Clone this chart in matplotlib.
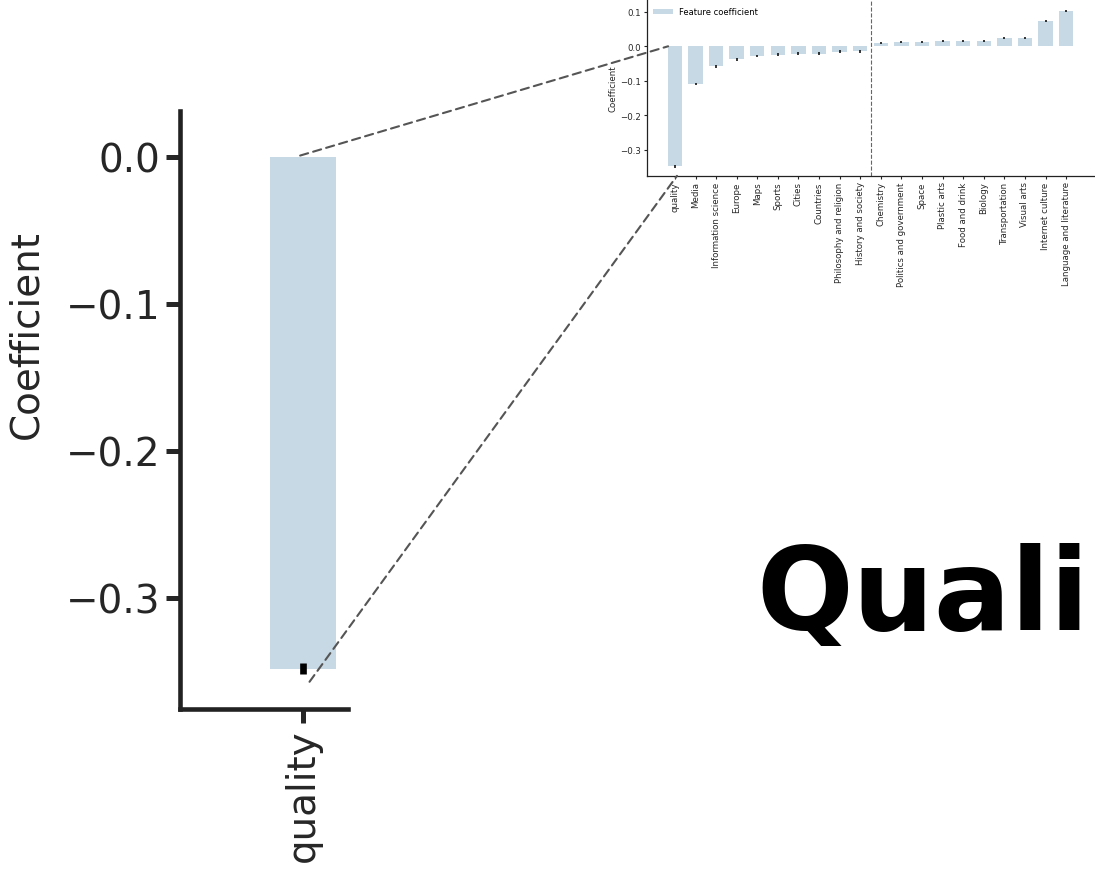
import numpy as np
import matplotlib.pyplot as plt
from matplotlib.patches import ConnectionPatch

# feature coefficients (sorted)
categories = ['quality', 'Media', 'Information science', 'Europe', 'Maps', 'Sports',
              'Cities', 'Countries', 'Philosophy and religion', 'History and society',
              'Chemistry', 'Politics and government', 'Space', 'Plastic arts',
              'Food and drink', 'Biology', 'Transportation', 'Visual arts',
              'Internet culture', 'Language and literature']
coefs = [-0.348, -0.109, -0.058, -0.038, -0.029, -0.024, -0.021, -0.021, -0.016, -0.015,
         0.010, 0.012, 0.0135, 0.0145, 0.015, 0.016, 0.023, 0.023, 0.0745, 0.1035]
errs = [0.004, 0.004, 0.004, 0.004, 0.003, 0.004, 0.003, 0.004, 0.004, 0.004,
        0.003, 0.003, 0.003, 0.003, 0.003, 0.003, 0.003, 0.003, 0.003, 0.003]
zoom_ticks = [0.0, -0.1, -0.2, -0.3]
inset_ticks = [0.1, 0.0, -0.1, -0.2, -0.3]
big_title = 'Quali'

bar_color = '#c8d9e6'
text_color = '#262626'
x = np.arange(len(categories))

fig = plt.figure(figsize=(10.95, 8.70), dpi=100)

# zoomed-in view on the first bar
ax = fig.add_axes([180 / 1095, 160 / 870, 168 / 1095, 598 / 870])
ax.bar(x, coefs, width=0.7, color=bar_color)
ax.errorbar(x, coefs, yerr=errs, fmt='none', ecolor='black', elinewidth=4.8)
ax.set_yticks(zoom_ticks)
ax.set_yticklabels(['0.0', '\u22120.1', '\u22120.2', '\u22120.3'])
ax.set_xticks(x)
ax.set_xticklabels(categories, rotation=90)
ax.set_xlim(-1.31, 0.48)
ax.set_ylim(-0.3755, 0.031)
ax.tick_params(labelsize=28, length=10, width=3.6, colors=text_color, pad=4)
ax.set_ylabel('Coefficient', fontsize=28, color=text_color)
ax.yaxis.set_label_coords(-0.80, 0.627)
for s in ['top', 'right']:
    ax.spines[s].set_visible(False)
for s in ['left', 'bottom']:
    ax.spines[s].set_linewidth(3.3)
    ax.spines[s].set_color('#222222')

# full chart (small, top right)
axi = fig.add_axes([646.7 / 1095, (870 - 176.7) / 870, (1095 - 646.7) / 1095, 176.7 / 870])
axi.bar(x, coefs, width=0.7, color=bar_color, label='Feature coefficient')
axi.errorbar(x, coefs, yerr=errs, fmt='none', ecolor='black', elinewidth=1.1)
axi.axvline(9.5, color='#666666', linestyle='--', linewidth=0.8)
axi.set_yticks(inset_ticks)
axi.set_yticklabels(['0.1', '0.0', '\u22120.1', '\u22120.2', '\u22120.3'])
axi.set_xticks(x)
axi.set_xticklabels(categories, rotation=90)
axi.set_xlim(-1.37, 20.4)
axi.set_ylim(-0.375, 0.137)
axi.tick_params(labelsize=6.2, length=2.5, width=0.8, colors=text_color, pad=1.5)
axi.set_ylabel('Coefficient', fontsize=6.2, color=text_color, labelpad=2)
for s in ['top', 'right']:
    axi.spines[s].set_visible(False)
for s in ['left', 'bottom']:
    axi.spines[s].set_linewidth(0.9)
    axi.spines[s].set_color('#222222')
axi.legend(loc='upper left', frameon=False, fontsize=6, handlelength=2.4,
           bbox_to_anchor=(0.0, 0.985), borderaxespad=0.3)

# dashed zoom lines between the two views
for pa, pb in [((-0.03, 0.0007), (-0.33, 0.0)), ((0.07, -0.357), (0.1, -0.3755))]:
    con = ConnectionPatch(xyA=pa, coordsA=ax.transData, xyB=pb, coordsB=axi.transData,
                          color='#555555', linewidth=1.5, linestyle=(0, (4, 2.5)))
    con.set_clip_on(False)
    fig.add_artist(con)

fig.text(756 / 1095, (870 - 630) / 870, big_title, fontsize=82, fontweight='bold',
         family='DejaVu Sans', color='black', ha='left', va='baseline')

fig.savefig('out.png', dpi=100)
